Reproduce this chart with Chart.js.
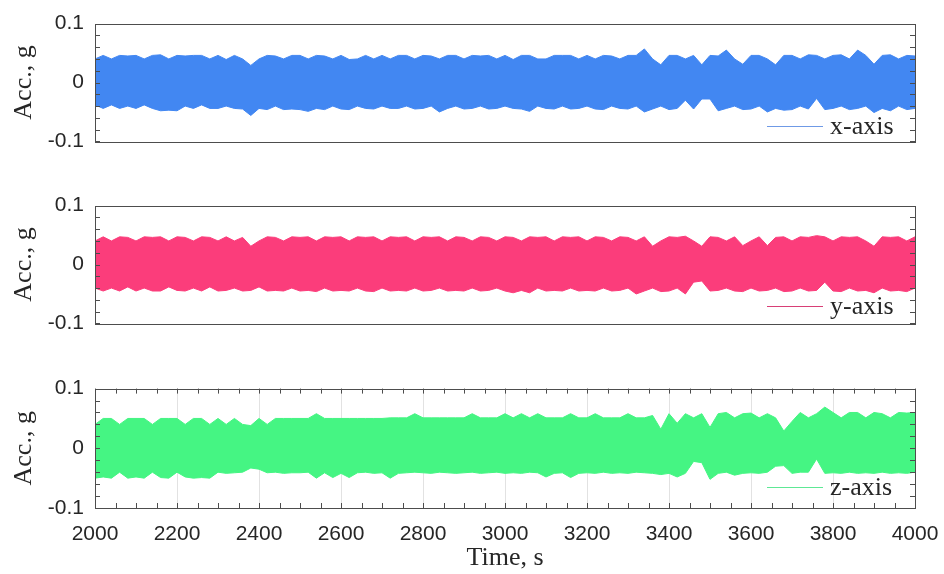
<!DOCTYPE html>
<html>
<head>
<meta charset="utf-8">
<script src="https://cdn.jsdelivr.net/npm/chart.js@4.4.1/dist/chart.umd.min.js"></script>
<style>
  body { margin: 0; background: #fff; }
  #wrap { position: relative; width: 944px; height: 574px; overflow: hidden; }
  #wrap canvas { position: absolute; left: 0; }
  .legend { position: absolute; left: 767px; height: 30px; display: flex; align-items: center;
            font: 26px 'Liberation Serif', 'Times New Roman', serif; color: #262626; line-height: 30px; }
  .legend i { display: inline-block; width: 56px; height: 0; border-top: 1px solid; margin-right: 7px; }
</style>
</head>
<body>
<div id="wrap">
  <canvas id="cx" width="944" height="165" style="top:0"></canvas>
  <canvas id="cy" width="944" height="165" style="top:182px"></canvas>
  <canvas id="cz" width="944" height="209" style="top:365px"></canvas>
  <div class="legend" style="top:111px"><i style="color:#6f9ae6"></i>x-axis</div>
  <div class="legend" style="top:291px"><i style="color:#d83f76"></i>y-axis</div>
  <div class="legend" style="top:472px"><i style="color:#5ee895"></i>z-axis</div>
</div>
<script>
// time grid, s (envelope sampled every 20 s)
const T0 = 2000, T1 = 4000, DT = 20;
const times = [];
for (let t = T0; t <= T1; t += DT) times.push(t);

const xTickLabels = [2000, 2200, 2400, 2600, 2800, 3000, 3200, 3400, 3600, 3800, 4000];
const yTickLabels = [-0.1, 0, 0.1];

// signal envelopes, in mg (upper / lower edge of the band)
const xAxisHi = [
  40,46,40,46,45,46,40,46,47,40, 46,45,46,46,40,46,39,46,40,29,
  40,46,45,40,46,46,40,46,45,40, 46,39,40,46,40,46,40,46,46,40,
  46,45,40,46,46,40,46,45,46,40, 46,39,46,46,40,40,46,46,46,40,
  46,40,46,45,40,46,46,57,40,30, 46,46,40,46,30,46,45,55,40,31,
  46,46,40,30,46,46,40,47,46,40, 46,47,40,55,46,31,46,47,40,46, 45];
const xAxisLo = [
  -38,-44,-38,-44,-40,-44,-38,-44,-48,-47, -48,-40,-44,-38,-44,-44,-40,-44,-45,-56,
  -44,-46,-40,-46,-45,-46,-49,-44,-46,-40, -45,-46,-40,-44,-45,-40,-44,-44,-40,-45,
  -44,-40,-50,-44,-40,-45,-44,-40,-45,-44, -40,-44,-45,-49,-40,-44,-45,-40,-45,-44,
  -40,-45,-46,-40,-44,-45,-40,-50,-45,-40, -46,-44,-30,-45,-28,-28,-48,-44,-40,-46,
  -45,-40,-50,-44,-47,-46,-40,-45,-27,-46, -44,-40,-46,-44,-40,-51,-44,-48,-40,-46, -44];

const yAxisHi = [
  40,47,40,47,46,40,47,46,47,40, 47,46,40,47,46,40,47,40,46,31,
  40,47,46,40,47,46,47,40,47,46, 47,40,47,46,47,40,47,46,47,40,
  47,46,47,40,47,46,40,47,46,40, 47,46,40,47,46,47,40,47,46,47,
  40,47,46,40,47,46,40,47,31,40, 47,46,48,40,31,47,46,40,47,32,
  40,47,32,46,47,40,47,46,49,47, 40,47,46,47,40,31,47,46,47,40, 47];
const yAxisLo = [
  -40,-45,-40,-45,-38,-45,-40,-45,-45,-38, -44,-45,-40,-45,-38,-45,-44,-40,-45,-44,
  -38,-45,-44,-45,-40,-45,-44,-46,-40,-45, -44,-45,-40,-45,-46,-40,-45,-44,-45,-40,
  -45,-44,-40,-45,-44,-45,-40,-45,-44,-40, -45,-48,-44,-48,-40,-45,-44,-45,-40,-45,
  -44,-45,-40,-45,-44,-40,-50,-45,-40,-46, -45,-40,-50,-30,-28,-45,-44,-40,-45,-46,
  -40,-45,-44,-40,-46,-45,-40,-45,-44,-30, -45,-46,-40,-45,-44,-48,-40,-45,-44,-46, -40];

const zAxisHi = [
  40,50,50,40,50,50,50,40,50,50, 50,40,50,50,40,50,40,50,40,38,
  50,40,50,50,50,50,50,58,50,50, 50,50,50,50,50,50,51,51,51,58,
  51,51,51,51,51,51,58,51,51,51, 58,51,58,51,58,51,51,51,58,51,
  51,58,51,51,51,58,51,51,55,32, 58,42,58,51,58,35,58,60,51,58,
  59,51,58,51,29,45,60,51,58,69, 60,51,60,60,51,60,58,51,60,59, 60];
const zAxisLo = [
  -50,-48,-50,-40,-50,-48,-50,-40,-49,-50, -40,-48,-50,-49,-50,-40,-42,-41,-40,-33,
  -35,-41,-40,-42,-41,-41,-40,-50,-41,-49, -42,-49,-41,-40,-42,-41,-50,-42,-41,-40,
  -41,-42,-40,-41,-42,-41,-40,-42,-41,-40, -42,-41,-42,-40,-41,-48,-42,-41,-49,-42,
  -41,-42,-40,-42,-41,-42,-40,-41,-42,-44, -42,-48,-42,-22,-24,-52,-42,-40,-45,-42,
  -41,-42,-40,-30,-29,-42,-40,-40,-18,-42, -41,-42,-40,-42,-41,-42,-40,-42,-41,-42, -40];

const SANS = "'Liberation Sans', Arial, sans-serif";
const SERIF = "'Liberation Serif', 'Times New Roman', serif";
const TXT = '#262626';

// box around the axes + inward tick marks (matlab look)
const frameTicks = {
  id: 'frameTicks',
  afterDatasetsDraw(chart, args, opts) {
    const { ctx, chartArea: a, scales } = chart;
    ctx.save();
    ctx.strokeStyle = '#4d4d4d';
    ctx.lineWidth = 1;
    ctx.beginPath();
    scales.y.ticks.forEach(t => {
      const py = Math.round(scales.y.getPixelForValue(t.value)) + 0.5;
      ctx.moveTo(a.left, py); ctx.lineTo(a.left + 5, py);
      ctx.moveTo(a.right, py); ctx.lineTo(a.right - 5, py);
    });
    if (opts.xTicks) {
      scales.x.ticks.forEach(t => {
        const px = Math.round(scales.x.getPixelForValue(t.value)) + 0.5;
        ctx.moveTo(px, a.top); ctx.lineTo(px, a.top + 5);
        ctx.moveTo(px, a.bottom); ctx.lineTo(px, a.bottom - 5);
      });
    }
    ctx.stroke();
    ctx.strokeRect(Math.round(a.left) + 0.5, Math.round(a.top) + 0.5, Math.round(a.width), Math.round(a.height));
    ctx.restore();
  }
};

function makePanel(id, hi, lo, color, withX) {
  const toPts = arr => arr.map((v, i) => ({ x: times[i], y: v / 1000 }));
  const xScale = {
    type: 'linear', min: T0, max: T1, display: withX,
    border: { display: false },
    grid: { drawTicks: false, color: c => xTickLabels.includes(c.tick.value) ? '#e2e2e2' : 'rgba(0,0,0,0)' },
    ticks: {
      stepSize: 50, autoSkip: false, maxRotation: 0, padding: 14, color: TXT,
      font: { family: SANS, size: 21 },
      callback: v => xTickLabels.includes(v) ? String(v) : ''
    },
    title: { display: true, text: 'Time, s', color: TXT, font: { family: SERIF, size: 26 }, padding: { top: 0, bottom: 0 } }
  };
  if (withX) {
    // keep the plot box the same width as the panels above
    xScale.afterFit = s => { s.height = 66; s.paddingLeft = 0; s.paddingRight = 0; };
  }

  return new Chart(document.getElementById(id), {
    type: 'line',
    data: {
      datasets: [
        { data: toPts(hi), borderColor: color, backgroundColor: color, borderWidth: 1, pointRadius: 0, fill: '+1', tension: 0 },
        { data: toPts(lo), borderColor: color, backgroundColor: color, borderWidth: 1, pointRadius: 0, fill: false, tension: 0 }
      ]
    },
    options: {
      responsive: false,
      animation: false,
      events: [],
      layout: { autoPadding: false, padding: { left: 0, right: 29, top: 18, bottom: withX ? 0 : 22 } },
      plugins: { legend: { display: false }, tooltip: { enabled: false }, frameTicks: { xTicks: withX } },
      scales: {
        x: xScale,
        y: {
          min: -0.1, max: 0.1,
          afterFit: s => { s.width = 95; },
          border: { display: false },
          grid: { display: false, drawTicks: false },
          ticks: {
            stepSize: 0.02, autoSkip: false, padding: 11, color: TXT,
            font: { family: SANS, size: 21 },
            callback: v => {
              const l = yTickLabels.find(k => Math.abs(k - v) < 1e-9);
              return l === undefined ? '' : String(l);
            }
          },
          title: { display: true, text: 'Acc., g', color: TXT, font: { family: SERIF, size: 26 }, padding: { top: 9, bottom: 0 } }
        }
      }
    },
    plugins: [frameTicks]
  });
}

makePanel('cx', xAxisHi, xAxisLo, '#4287f2', false);
makePanel('cy', yAxisHi, yAxisLo, '#fb3d7b', false);
makePanel('cz', zAxisHi, zAxisLo, '#45f583', true);
</script>
</body>
</html>
